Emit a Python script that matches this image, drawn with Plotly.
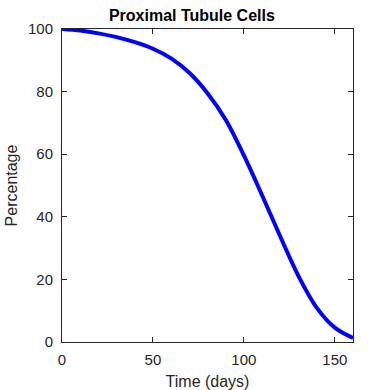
import plotly.graph_objects as go

# time in days and percentage of proximal tubule cells
days = [0, 10, 20, 30, 40, 50, 60, 70, 80, 90, 100, 110, 120, 130, 140, 150, 160]
percentage = [100, 99.5, 98.6, 97.4, 95.8, 93.7, 90.6, 86.0, 79.5, 71.0, 59.6, 46.9, 33.7, 21.1, 11.0, 4.6, 1.3]

x_ticks = [0, 50, 100, 150]
y_ticks = [0, 20, 40, 60, 80, 100]

dark = "#262626"
font_family = "Liberation Sans, Arial, sans-serif"

fig = go.Figure()
fig.add_trace(go.Scatter(
    x=days, y=percentage, mode="lines",
    line=dict(color="#0000ff", width=4, shape="spline"),
    showlegend=False,
))

axis_style = dict(
    showline=True, linecolor=dark, linewidth=1, mirror="ticks",
    ticks="inside", ticklen=5, tickcolor=dark, tickwidth=1,
    showgrid=False, zeroline=False,
    tickfont=dict(size=15, color=dark, family=font_family),
)

fig.update_xaxes(range=[0, 160], tickvals=x_ticks, ticklabelstandoff=4,
                 title=dict(text="Time (days)", font=dict(size=16, color=dark, family=font_family), standoff=8),
                 **axis_style)
fig.update_yaxes(range=[0, 100], tickvals=y_ticks, ticklabelstandoff=5,
                 title=dict(text="Percentage", font=dict(size=16, color=dark, family=font_family), standoff=6),
                 **axis_style)

fig.update_layout(
    width=390, height=390,
    margin=dict(l=62, r=37, t=29, b=48, autoexpand=False),
    paper_bgcolor="white", plot_bgcolor="white",
    font=dict(family=font_family, color=dark),
    title=dict(text="<b>Proximal Tubule Cells</b>", x=0.492, xanchor="center",
               y=0.96, yanchor="middle", yref="container",
               font=dict(size=16, color="black", family=font_family)),
)

# drop the default body margin so the figure sits at the window's corner
fig.write_html("out.html", config={"displayModeBar": False},
               post_script="document.body.style.margin='0';")
